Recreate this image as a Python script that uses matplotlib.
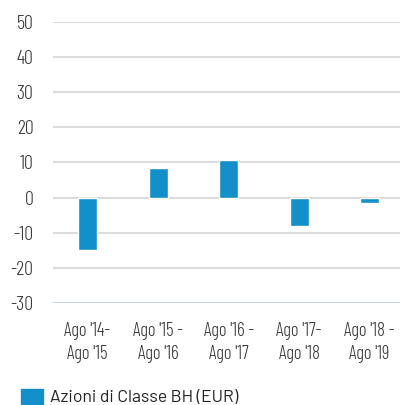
import matplotlib
matplotlib.use("Agg")
import matplotlib.pyplot as plt
from matplotlib.patches import Rectangle

# data
periods = ["Ago '14-\nAgo '15", "Ago '15 -\nAgo '16", "Ago '16 -\nAgo '17",
           "Ago '17-\nAgo '18", "Ago '18 -\nAgo '19"]
values = [-14.9, 8.4, 10.7, -8.0, -1.7]
yticks = [-30, -20, -10, 0, 10, 20, 30, 40, 50]
series_name = "Azioni di Classe BH (EUR)"

cond = ["Barlow Condensed", "DejaVu Sans"]
reg = ["Barlow", "DejaVu Sans"]
bar_col = "#138fc9"
txt_col = "#333333"

fig = plt.figure(figsize=(4.0, 4.05), dpi=100)
ax = fig.add_axes([0.1325, 0.2526, 0.8675, 0.6924])

x = list(range(len(values)))
ax.bar(x, values, width=0.27, color=bar_col, edgecolor="white", linewidth=1, zorder=3)

ax.set_ylim(-30, 50)
ax.set_xlim(-0.49, 4.43)
ax.set_yticks(yticks)
ax.set_yticklabels([str(v) for v in yticks], family=cond, fontweight=300,
                   fontsize=14.5, color=txt_col)
ax.set_xticks(x)
ax.set_xticklabels(periods, family=cond, fontweight=300, fontsize=13.5,
                   color=txt_col, linespacing=1.35)

for v in yticks:
    col = "#c9d5e2" if v == -30 else "#dcdcdc"
    ax.axhline(v, color=col, linewidth=1.5, zorder=1)

for s in ax.spines.values():
    s.set_visible(False)
ax.tick_params(axis="both", length=0)
ax.tick_params(axis="y", pad=14)
ax.tick_params(axis="x", pad=14)

# legend
fig.patches.append(Rectangle((21 / 400, 1 - 404 / 405), 22 / 400, 15 / 405,
                             transform=fig.transFigure, color=bar_col))
fig.text(50 / 400, 1 - 397 / 405, series_name, family=reg, fontsize=12.6,
         color="#222222", va="center", ha="left")

fig.savefig("out.png", dpi=100)
